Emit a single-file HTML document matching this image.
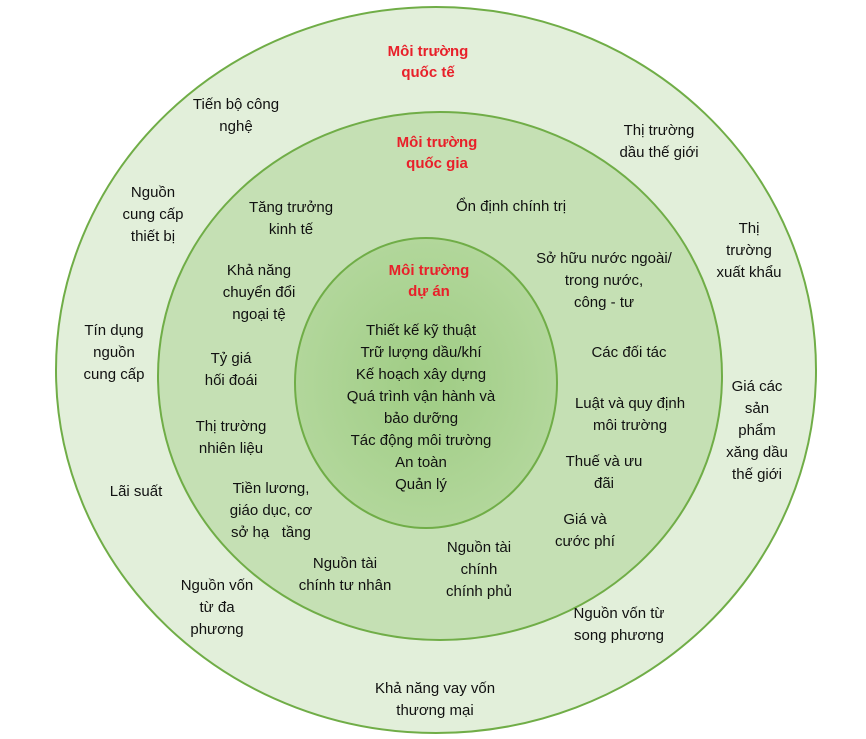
<!DOCTYPE html>
<html><head><meta charset="utf-8"><style>
body{margin:0;width:866px;height:739px;background:#fff;position:relative;overflow:hidden;font-family:"Liberation Sans",sans-serif;}
svg{position:absolute;left:0;top:0}
.t{position:absolute;transform:translateX(-50%);text-align:center;white-space:nowrap;font-size:15px;line-height:22px;color:#111;}
.r{color:#e8202a;font-weight:bold;font-size:15px;line-height:21px}
</style></head><body>
<svg width="866" height="739">
<defs><radialGradient id="g" cx="50%" cy="50%" r="50%"><stop offset="0" stop-color="#9fcc84"/><stop offset="1" stop-color="#b2d79b"/></radialGradient></defs>
<ellipse cx="436" cy="370" rx="380" ry="363" fill="#e2efda" stroke="#70ad47" stroke-width="2"/>
<ellipse cx="440" cy="376" rx="282" ry="264" fill="#c5e0b4" stroke="#70ad47" stroke-width="2"/>
<ellipse cx="426" cy="383" rx="131" ry="145" fill="url(#g)" stroke="#70ad47" stroke-width="2"/>
</svg>
<div class="t r" style="left:428px;top:41px">Môi trường<br>quốc tế</div>
<div class="t" style="left:236px;top:94px">Tiến bộ công<br>nghệ</div>
<div class="t" style="left:659px;top:120px">Thị trường<br>dầu thế giới</div>
<div class="t r" style="left:437px;top:132px">Môi trường<br>quốc gia</div>
<div class="t" style="left:153px;top:182px">Nguồn<br>cung cấp<br>thiết bị</div>
<div class="t" style="left:291px;top:197px">Tăng trưởng<br>kinh tế</div>
<div class="t" style="left:511px;top:196px">Ổn định chính trị</div>
<div class="t" style="left:749px;top:218px">Thị<br>trường<br>xuất khẩu</div>
<div class="t r" style="left:429px;top:260px">Môi trường<br>dự án</div>
<div class="t" style="left:604px;top:248px">Sở hữu nước ngoài/<br>trong nước,<br>công - tư</div>
<div class="t" style="left:259px;top:260px">Khả năng<br>chuyển đổi<br>ngoại tệ</div>
<div class="t" style="left:421px;top:320px">Thiết kế kỹ thuật<br>Trữ lượng dầu/khí<br>Kế hoạch xây dựng<br>Quá trình vận hành và<br>bảo dưỡng<br>Tác động môi trường<br>An toàn<br>Quản lý</div>
<div class="t" style="left:114px;top:320px">Tín dụng<br>nguồn<br>cung cấp</div>
<div class="t" style="left:629px;top:342px">Các đối tác</div>
<div class="t" style="left:231px;top:348px">Tỷ giá<br>hối đoái</div>
<div class="t" style="left:757px;top:376px">Giá các<br>sản<br>phẩm<br>xăng dầu<br>thế giới</div>
<div class="t" style="left:630px;top:393px">Luật và quy định<br>môi trường</div>
<div class="t" style="left:231px;top:416px">Thị trường<br>nhiên liệu</div>
<div class="t" style="left:604px;top:451px">Thuế và ưu<br>đãi</div>
<div class="t" style="left:136px;top:481px">Lãi suất</div>
<div class="t" style="left:271px;top:478px">Tiền lương,<br>giáo dục, cơ<br>sở hạ&nbsp;&nbsp; tầng</div>
<div class="t" style="left:585px;top:509px">Giá và<br>cước phí</div>
<div class="t" style="left:479px;top:537px">Nguồn tài<br>chính<br>chính phủ</div>
<div class="t" style="left:345px;top:553px">Nguồn tài<br>chính tư nhân</div>
<div class="t" style="left:217px;top:575px">Nguồn vốn<br>từ đa<br>phương</div>
<div class="t" style="left:619px;top:603px">Nguồn vốn từ<br>song phương</div>
<div class="t" style="left:435px;top:678px">Khả năng vay vốn<br>thương mại</div>
</body></html>
